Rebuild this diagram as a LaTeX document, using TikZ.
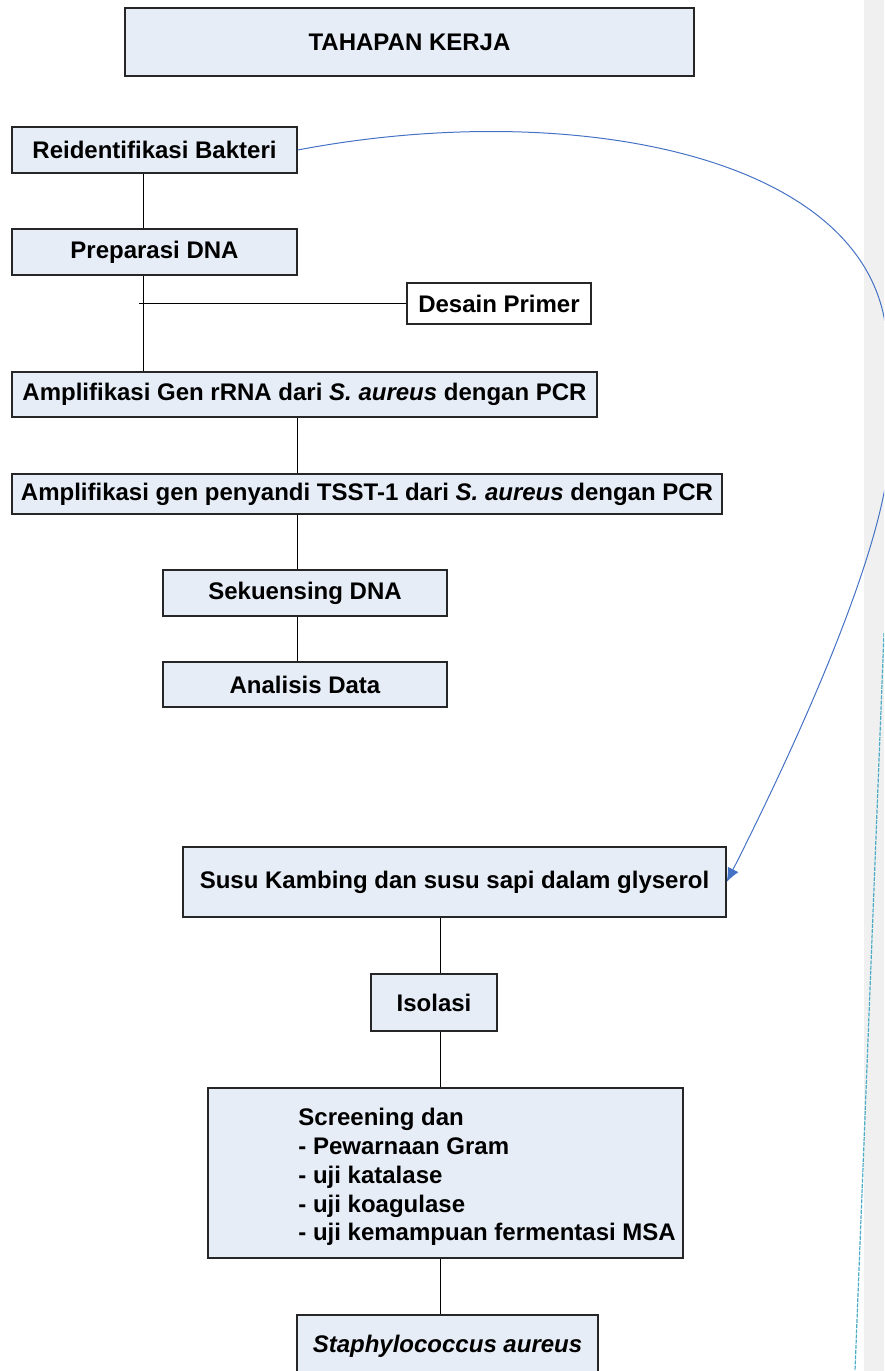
\documentclass[tikz,border=0pt]{standalone}
\usepackage{fontspec}
\setmainfont{Liberation Sans}
\usetikzlibrary{arrows.meta,positioning}
\definecolor{TKFill}{HTML}{E7EDF7}
\definecolor{TKEdge}{HTML}{262626}
\definecolor{TKBlue}{HTML}{4472C4}
\definecolor{TKCyan}{HTML}{4BACC6}
\definecolor{TKStrip}{HTML}{F0F0F0}

\begin{document}
\begin{tikzpicture}[
  x=0.5pt, y=-0.5pt,
  stepbox/.style={draw=TKEdge,line width=0.7pt,fill=TKFill,inner sep=0pt,align=center,font=\fontsize{12}{14.4}\selectfont\bfseries},
  plainbox/.style={stepbox,fill=white},
  link/.style={draw=black,line width=0.5pt},
  arr/.style={-{Latex[length=7pt,width=6pt]},draw=TKBlue,line width=0.5pt}
]
\useasboundingbox (0,0) rectangle (884,1371);
\clip (0,0) rectangle (884,1371);
\fill[TKStrip] (864,0) rectangle (884,1371);

% upper chain
\node[stepbox,minimum width=284.5pt,minimum height=34pt] (title) at (409.5,42) {TAHAPAN KERJA};
\node[stepbox,minimum width=142.5pt,minimum height=23pt] (reid) at (154.5,150) {Reidentifikasi Bakteri};
\node[stepbox,minimum width=142.5pt,minimum height=23pt] (prep) at (154.5,252) {Preparasi DNA};
\node[plainbox,minimum width=92pt,minimum height=20.5pt] (desain) at (499,303.5) {Desain Primer};
\node[stepbox,minimum width=292.5pt,minimum height=22.5pt] (amp1) at (304.5,394.5) {Amplifikasi Gen rRNA dari \textit{S. aureus} dengan PCR};
\node[stepbox,minimum width=355pt,minimum height=20pt] (amp2) at (367,494) {Amplifikasi gen penyandi TSST-1 dari \textit{S. aureus} dengan PCR};
\node[stepbox,minimum width=142pt,minimum height=23pt] (seq) at (305,593) {Sekuensing DNA};
\node[stepbox,minimum width=142pt,minimum height=22.5pt] (anl) at (305,684.5) {Analisis Data};

% lower chain
\node[stepbox,minimum width=271.5pt,minimum height=35pt] (susu) at (454.5,882) {Susu Kambing dan susu sapi dalam glyserol};
\node[stepbox,minimum width=63pt,minimum height=28.5pt] (iso) at (434,1002.5) {Isolasi};
\node[stepbox,minimum width=237.5pt,minimum height=85pt] (scr) at (445.5,1173) {};
\node[anchor=west,inner sep=0pt,align=left,font=\fontsize{12}{14.4}\selectfont\bfseries] (scrtxt) at (298,1177) {Screening dan\\- Pewarnaan Gram\\- uji katalase\\- uji koagulase\\- uji kemampuan fermentasi MSA};
\node[stepbox,minimum width=150.5pt,minimum height=31.5pt] (staph) at (447.5,1346.5) {\textit{Staphylococcus aureus}};

\coordinate (spineA) at (143,0);
\coordinate (spineD) at (139,0);
\coordinate (spineB) at (297,0);
\coordinate (spineC) at (440,0);

\draw[link] (spineA |- reid.south) -- (spineA |- prep.north);
\draw[link] (spineA |- prep.south) -- (spineA |- amp1.north);
\draw[link] (spineD |- desain.west) -- (desain.west);
\draw[link] (spineB |- amp1.south) -- (spineB |- amp2.north);
\draw[link] (spineB |- amp2.south) -- (spineB |- seq.north);
\draw[link] (spineB |- seq.south) -- (spineB |- anl.north);
\draw[link] (spineC |- susu.south) -- (spineC |- iso.north);
\draw[link] (spineC |- iso.south) -- (spineC |- scr.north);
\draw[link] (spineC |- scr.south) -- (spineC |- staph.north);

% long arc, leaves the page on the right
\draw[arr] (reid.east) .. controls (560,100) and (850,150) .. (884,317)
  .. controls (897.6,383.8) and (898,425) .. (884,493)
  .. controls (864,593) and (794.5,748) .. (susu.east);

% comment leader
\coordinate (noteA) at (884,633);
\coordinate (noteB) at (855,1371);
\draw[TKCyan,line width=0.6pt,dash pattern=on 2pt off 0.6pt] (noteA) -- (noteB);
\end{tikzpicture}
\end{document}
